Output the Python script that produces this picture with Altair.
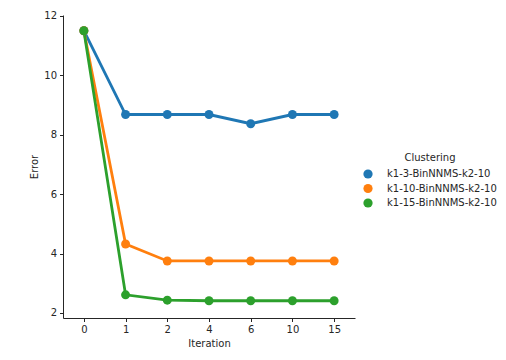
import altair as alt
import pandas as pd

iterations = ["0", "1", "2", "4", "6", "10", "15"]
series_names = ["k1-3-BinNNMS-k2-10", "k1-10-BinNNMS-k2-10", "k1-15-BinNNMS-k2-10"]
blue_vals = [11.5, 8.68, 8.68, 8.68, 8.37, 8.68, 8.68]
orange_vals = [11.5, 4.32, 3.75, 3.75, 3.75, 3.75, 3.75]
green_vals = [11.5, 2.61, 2.43, 2.41, 2.41, 2.41, 2.41]
colors = ["#1f77b4", "#ff7f0e", "#2ca02c"]

rows = []
for name, vals in zip(series_names, [blue_vals, orange_vals, green_vals]):
    for i, (it, v) in enumerate(zip(iterations, vals)):
        rows.append({"Iteration": it, "Error": v, "Clustering": name, "idx": i})
df = pd.DataFrame(rows)

font = "DejaVu Sans"
x = alt.X("Iteration:N", sort=iterations,
          scale=alt.Scale(type="point", padding=0.5),
          axis=alt.Axis(labelAngle=0, title="Iteration", grid=False))
y = alt.Y("Error:Q", scale=alt.Scale(domain=[1.83, 12.03], nice=False, zero=False),
          axis=alt.Axis(values=[2, 4, 6, 8, 10, 12], title="Error", grid=False))
color = alt.Color("Clustering:N",
                  scale=alt.Scale(domain=series_names, range=colors),
                  legend=alt.Legend(title="Clustering", orient="none",
                                    legendX=300, legendY=138,
                                    symbolType="circle", symbolSize=85,
                                    symbolStrokeWidth=0, titleAnchor="middle",
                                    labelFont=font, titleFont=font,
                                    labelFontSize=10, titleFontSize=10,
                                    titleFontWeight="normal",
                                    labelColor="#262626", titleColor="#262626",
                                    rowPadding=4.5, labelOffset=14, titlePadding=6))

base = alt.Chart(df)
lines = base.mark_line(strokeWidth=2.8).encode(
    x=x, y=y, color=color, order=alt.Order("idx:Q"))
points = base.mark_circle(size=80, opacity=1).encode(x=x, y=y, color=color)

chart = alt.layer(lines, points).properties(
    width=292, height=303,
    autosize=alt.AutoSizeParams(type="none"),
    padding={"left": 55, "top": 7, "right": 143, "bottom": 34},
).configure_view(stroke=None).configure_axis(
    labelFont=font, titleFont=font, labelFontSize=10, titleFontSize=10,
    titleFontWeight="normal", labelColor="#262626", titleColor="#262626",
    domainColor="#262626", tickColor="#262626", tickSize=3.5,
    labelPadding=3, titlePadding=4,
)

chart.save("out.html", embed_options={"renderer": "svg", "actions": False})
